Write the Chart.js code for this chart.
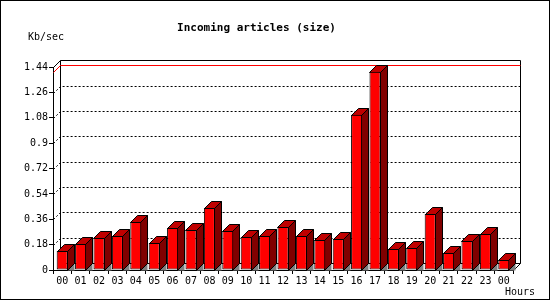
<!DOCTYPE html>
<html>
<head>
<meta charset="utf-8">
<script src="https://cdn.jsdelivr.net/npm/chart.js@4/dist/chart.umd.min.js"></script>
<style>
  html, body { margin: 0; padding: 0; background: #fff; }
  #wrap { width: 550px; height: 300px; }
</style>
</head>
<body>
<div id="wrap"><canvas id="traffic"></canvas></div>
<script>
const HOURS = ['00','01','02','03','04','05','06','07','08','09','10','11',
  '12','13','14','15','16','17','18','19','20','21','22','23','00']
const KB_SEC = [0.135,0.185,0.227,0.242,0.341,0.192,0.298,0.284,0.441,0.277,0.235,0.242,
  0.306,0.242,0.213,0.220,1.102,1.407,0.149,0.156,0.398,0.121,0.206,0.256,0.071]
const Y_TICKS = [0,0.18,0.36,0.54,0.72,0.9,1.08,1.26,1.44]

const FONT = 'DejaVu Sans Mono'
const D = 7   // depth of the fake 3d

function line(ctx, pts, close) {
  ctx.beginPath()
  ctx.moveTo(pts[0][0], pts[0][1])
  for (let i = 1; i < pts.length; i++) ctx.lineTo(pts[i][0], pts[i][1])
  if (close) ctx.closePath()
}

const depth3d = {
  id: 'depth3d',
  beforeDraw(chart) {
    const ctx = chart.ctx
    ctx.save()
    ctx.fillStyle = '#fff'
    ctx.fillRect(0, 0, chart.width, chart.height)
    ctx.strokeStyle = '#000'
    ctx.lineWidth = 1
    ctx.strokeRect(0.5, 0.5, chart.width - 1, chart.height - 1)
    ctx.fillStyle = '#000'
    ctx.font = '10px ' + FONT
    ctx.textBaseline = 'middle'
    ctx.textAlign = 'left'
    ctx.fillText('Kb/sec', 28, 37)
    ctx.fillText('Hours', 505, 292)
    ctx.restore()
  },
  beforeDatasetsDraw(chart) {
    const ctx = chart.ctx
    const a = chart.chartArea
    const y = chart.scales.y
    const L = Math.round(a.left) + 0.5, R = Math.round(a.right) + 0.5
    const T = Math.round(a.top) + 0.5, B = Math.round(a.bottom) + 0.5
    ctx.save()
    ctx.lineWidth = 1
    ctx.strokeStyle = '#000'
    // back wall
    line(ctx, [[L + D, B - D], [L + D, T - D], [R + D, T - D], [R + D, B - D], [L + D, B - D]])
    ctx.stroke()
    line(ctx, [[L, T], [L + D, T - D]]); ctx.stroke()
    line(ctx, [[R, B], [R + D, B - D]]); ctx.stroke()
    // dotted grid on the back wall
    ctx.setLineDash([2, 2])
    Y_TICKS.forEach(v => {
      if (v === 0 || v === Y_TICKS[Y_TICKS.length - 1]) return
      const py = Math.round(y.getPixelForValue(v)) + 0.5
      line(ctx, [[L, py], [L + D, py - D], [R + D, py - D]])
      ctx.stroke()
    })
    ctx.setLineDash([])
    // max line
    const my = Math.round(y.getPixelForValue(Math.max(...KB_SEC))) + 0.5
    ctx.strokeStyle = '#f00'
    line(ctx, [[L, my], [L + D, my - D], [R + D, my - D]])
    ctx.stroke()
    // bar sides and tops
    ctx.strokeStyle = '#000'
    const bars = chart.getDatasetMeta(0).data
    bars.forEach(bar => {
      const p = bar.getProps(['x', 'y', 'base', 'width'], true)
      const l = Math.round(p.x - p.width / 2) + 0.5
      const r = Math.round(p.x + p.width / 2) - 0.5
      const t = Math.round(p.y) + 0.5
      const b = Math.round(p.base) + 0.5
      ctx.fillStyle = '#808080'
      line(ctx, [[r, b], [r + D, b - D], [r + D, b]], true)
      ctx.fill()
      ctx.fillStyle = '#800000'
      line(ctx, [[r, t], [r + D, t - D], [r + D, b - D], [r, b]], true)
      ctx.fill(); ctx.stroke()
      ctx.fillStyle = '#c00000'
      line(ctx, [[l, t], [l + D, t - D], [r + D, t - D], [r, t]], true)
      ctx.fill(); ctx.stroke()
    })
    ctx.restore()
  }
}

new Chart(document.getElementById('traffic'), {
  type: 'bar',
  data: {
    labels: HOURS,
    datasets: [{
      label: 'Kb/sec',
      data: KB_SEC,
      backgroundColor: '#ff0000',
      borderColor: '#000',
      borderWidth: 1,
      borderSkipped: false,
      barPercentage: 0.6,
      categoryPercentage: 1.0,
    }],
  },
  options: {
    responsive: true,
    maintainAspectRatio: false,
    animation: false,
    devicePixelRatio: 1,
    layout: {
      padding: { left: 0, right: 37, top: 0, bottom: 0 },
    },
    plugins: {
      legend: { display: false },
      tooltip: { enabled: false },
      title: {
        display: true,
        text: 'Incoming articles (size)',
        color: '#000',
        font: { family: FONT, size: 11, weight: 'bold' },
        padding: { top: 22, bottom: 32 },
      },
    },
    scales: {
      x: {
        grid: {
          offset: true,
          drawOnChartArea: false,
          tickLength: 4,
          color: '#000',
        },
        border: { color: '#000' },
        ticks: {
          color: '#000',
          font: { family: FONT, size: 10 },
          padding: 1,
          maxRotation: 0,
          autoSkip: false,
        },
        afterFit(scale) { scale.height = 30 },
      },
      y: {
        min: 0,
        max: 1.44,
        afterBuildTicks(scale) {
          scale.ticks = Y_TICKS.map(v => ({ value: v }))
        },
        grid: {
          drawOnChartArea: false,
          tickLength: 4,
          color: '#000',
        },
        border: { color: '#000' },
        ticks: {
          color: '#000',
          font: { family: FONT, size: 10 },
          padding: 1,
          callback: v => String(v),
        },
        afterFit(scale) { scale.width = 53 },
      },
    },
  },
  plugins: [depth3d],
})
</script>
</body>
</html>
